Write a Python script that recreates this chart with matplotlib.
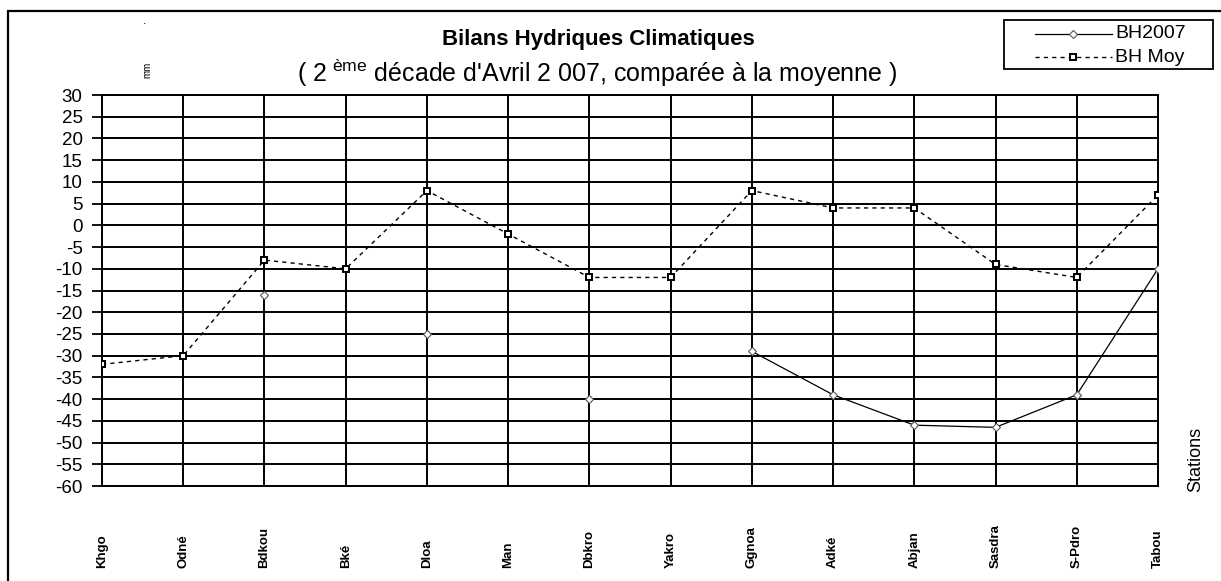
import matplotlib
matplotlib.use("Agg")
import matplotlib.pyplot as plt
import matplotlib.patches as mpatches
from matplotlib.lines import Line2D
import numpy as np

plt.rcParams["font.family"] = ["Liberation Sans", "DejaVu Sans"]
plt.rcParams["mathtext.fontset"] = "custom"
plt.rcParams["mathtext.rm"] = "Liberation Sans"

# ── Data ───────────────────────────────────────────────────────────────────────
stations = ["Khgo", "Odné", "Bdkou", "Bké", "Dloa", "Man", "Dbkro",
            "Yakro", "Ggnoa", "Adké", "Abjan", "Sasdra", "S-Pdro", "Tabou"]
bh2007 = [np.nan, np.nan, -16, np.nan, -25, np.nan, -40,
          np.nan, -29, -39, -46, -46.5, -39, -10]
bh_moy = [-32, -30, -8, -10, 8, -2, -12,
          -12, 8, 4, 4, -9, -12, 7]
y_ticks = list(range(-60, 31, 5))
series_labels = ["BH2007", "BH Moy"]

# ── Figure ─────────────────────────────────────────────────────────────────────
W, H = 1221, 581
fig = plt.figure(figsize=(W / 100, H / 100), dpi=100)
fig.patch.set_facecolor("white")
ax = fig.add_axes([102 / W, 1 - 486 / H, (1158 - 102) / W, (486 - 95) / H])

x = np.arange(len(stations))

style_2007 = dict(color="black", lw=0.9, marker="D", markersize=4.5,
                  markerfacecolor="white", markeredgecolor="#555555",
                  markeredgewidth=0.8)
style_moy = dict(color="black", lw=1.0, ls=(0, (3, 3)), marker="s", markersize=5,
                 markerfacecolor="white", markeredgecolor="black",
                 markeredgewidth=1.4)

ax.plot(x, bh2007, zorder=3, **style_2007)
ax.plot(x, bh_moy, zorder=3, **style_moy)

ax.set_xlim(0, len(stations) - 1)
ax.set_ylim(-60, 30)
ax.set_yticks(y_ticks)
ax.set_yticklabels([str(v) for v in y_ticks], fontsize=13.5)
ax.set_xticks(x)
ax.set_xticklabels(stations, rotation=90, va="bottom", ha="center",
                   fontsize=9.5, fontweight="bold")
ax.tick_params(axis="x", length=0, pad=59)
ax.tick_params(axis="y", length=7, width=1.3, pad=7, direction="out")

ax.grid(True, color="black", lw=1.4)
ax.set_axisbelow(True)
for spine in ax.spines.values():
    spine.set_linewidth(1.4)

# Outer chart frame
fig.patches.append(mpatches.Rectangle((8 / W, -0.1), 1.2, 1 - 11 / H + 0.1,
                                      transform=fig.transFigure, fill=False,
                                      edgecolor="black", lw=1.6))

# Titles
fig.text(598 / W, 1 - 40 / H, "Bilans Hydriques Climatiques",
         ha="center", va="center", fontsize=16, fontweight="bold")
fig.text(597 / W, 1 - 73 / H,
         "( 2$^{\\ \\mathrm{ème}}$ décade d'Avril 2 007, comparée à la moyenne )",
         ha="center", va="center", fontsize=18)
fig.text(147 / W, 1 - 70 / H, "mm", rotation=90, ha="center", va="center",
         fontsize=7)
fig.text(145 / W, 1 - 27 / H, ".", ha="center", va="bottom", fontsize=9)
fig.text(1196 / W, 1 - 492 / H, "Stations", rotation=90, ha="center",
         va="bottom", fontsize=13)

# Legend (drawn by hand to match the boxed layout)
fig.patches.append(mpatches.Rectangle((1004 / W, 1 - 69 / H), (1213 - 1004) / W,
                                      49 / H, transform=fig.transFigure,
                                      fill=False, edgecolor="black", lw=1.3))
for row, (label, style) in enumerate(zip(series_labels, [style_2007, style_moy])):
    yy = 1 - (34 + 23 * row) / H
    fig.lines.append(Line2D([1035 / W, 1112 / W], [yy, yy],
                            transform=fig.transFigure,
                            **{k: v for k, v in style.items() if k != "marker"}))
    fig.lines.append(Line2D([1073 / W], [yy], transform=fig.transFigure,
                            ls="none", **{k: v for k, v in style.items()
                                          if k not in ("ls", "lw")}))
    fig.text(1115 / W, yy, label, ha="left", va="center", fontsize=14)

fig.savefig("out.png", dpi=100)
